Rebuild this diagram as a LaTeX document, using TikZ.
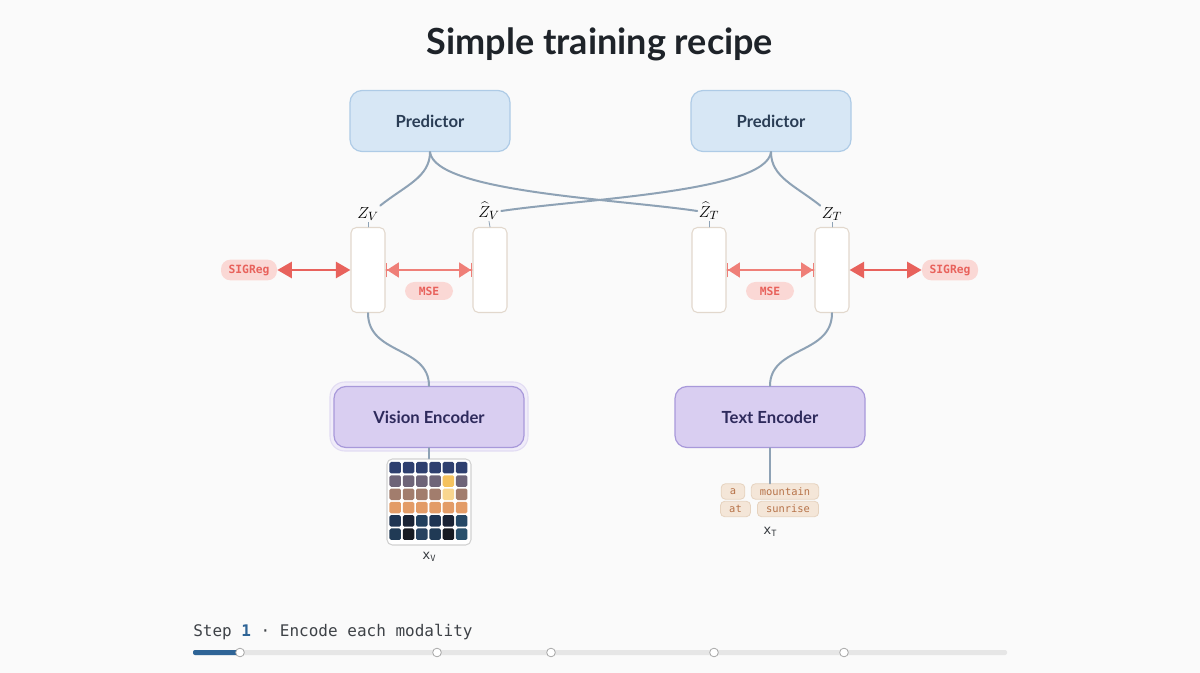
\documentclass[tikz,border=0pt]{standalone}
\usepackage{fontspec}
\setmainfont{Lato}
\setmonofont{DejaVu Sans Mono}
\usetikzlibrary{calc,arrows.meta}
\definecolor{bg}{HTML}{FAFAFA}
\definecolor{ink}{HTML}{1E2329}
\definecolor{predfill}{HTML}{D7E7F5}
\definecolor{predline}{HTML}{AECBE6}
\definecolor{predtext}{HTML}{2A3D55}
\definecolor{embline}{HTML}{E2D8CD}
\definecolor{wire}{HTML}{8EA2B5}
\definecolor{sigred}{HTML}{E8625C}
\definecolor{msered}{HTML}{EF7F78}
\definecolor{pillfill}{HTML}{FAD8D5}
\definecolor{encfill}{HTML}{D9CEF1}
\definecolor{encline}{HTML}{A899DA}
\definecolor{enctext}{HTML}{2E2A5C}
\definecolor{halofill}{HTML}{F0ECF9}
\definecolor{haloline}{HTML}{E2DCF3}
\definecolor{tokfill}{HTML}{F4E6D8}
\definecolor{tokline}{HTML}{E6D3BF}
\definecolor{toktext}{HTML}{B67248}
\definecolor{steptext}{HTML}{3E4247}
\definecolor{stepblue}{HTML}{2E6496}
\definecolor{track}{HTML}{E6E6E6}
% pixel colours
\definecolor{nv}{HTML}{2E3F6F}
\definecolor{gp}{HTML}{6E6478}
\definecolor{yl}{HTML}{F5C25E}
\definecolor{br}{HTML}{A27D6D}
\definecolor{ly}{HTML}{F9D68F}
\definecolor{og}{HTML}{E39C67}
\definecolor{da}{HTML}{1F3553}
\definecolor{db}{HTML}{1A2335}
\definecolor{dc}{HTML}{22405E}
\definecolor{dd}{HTML}{254866}
\definecolor{de}{HTML}{203A55}
\definecolor{df}{HTML}{161A22}
\definecolor{dg}{HTML}{274260}
\definecolor{dh}{HTML}{29506C}
\newcommand{\cell}{11.5}
\newcommand{\pitch}{13.3}
\tikzset{
  pred/.style={draw=predline, fill=predfill, line width=0.9pt, rounded corners=9pt,
    minimum width=120pt, minimum height=45.75pt, text=predtext, font=\fontsize{12.5}{14}\selectfont\bfseries},
  emb/.style={draw=embline, fill=white, line width=0.8pt, rounded corners=4pt,
    minimum width=25.5pt, minimum height=63.75pt, inner sep=0pt},
  zlab/.style={font=\fontsize{13}{15}\selectfont, inner sep=1pt},
  wireline/.style={draw=wire, line width=1.5pt},
  pill/.style={fill=pillfill, rounded corners=7pt, text=sigred, font=\fontsize{8.5}{9}\selectfont\ttfamily\bfseries,
    minimum height=15.5pt, minimum width=42pt, inner xsep=3pt, inner ysep=0pt},
  msepill/.style={pill, minimum width=36pt, minimum height=13.5pt},
  sigarrow/.style={draw=sigred, line width=2.2pt,
    {Triangle[length=11pt,width=12pt]}-{Triangle[length=11pt,width=12pt]}},
  msearrow/.style={draw=msered, line width=1.9pt,
    {Bar[width=11pt,line width=1pt,sep=0pt]Triangle[length=9pt,width=11pt]}-{Triangle[length=9pt,width=11pt]Bar[width=11pt,line width=1pt,sep=0pt]}},
  enc/.style={draw=encline, fill=encfill, line width=0.9pt, rounded corners=9pt,
    minimum width=142.5pt, minimum height=45.75pt, text=enctext, font=\fontsize{12.5}{14}\selectfont\bfseries},
  imgframe/.style={draw=black!18, fill=white, line width=0.8pt, rounded corners=4pt,
    minimum width=63pt, minimum height=64.5pt, inner sep=0pt},
  tok/.style={draw=tokline, fill=tokfill, line width=0.6pt, rounded corners=3pt, text=toktext,
    font=\fontsize{7.8}{8}\selectfont\ttfamily, minimum height=11.5pt, inner xsep=6.5pt, inner ysep=0pt},
  xlab/.style={font=\fontsize{10}{11}\selectfont\ttfamily, text=ink!90},
  dot/.style={circle, draw=black!35, fill=white, line width=0.6pt, minimum size=6.5pt, inner sep=0pt}
}

\begin{document}
\begin{tikzpicture}[x=0.75pt, y=-0.75pt, line cap=round, line join=round]

\fill[bg] (0,0) rectangle (1200,673);
\useasboundingbox (0,0) rectangle (1200,673);

% ---------------- title ----------------
\node[font=\fontsize{27}{32}\selectfont\bfseries, text=ink] (title) at (600,44) {Simple training recipe};

% ---------------- predictors ----------------
\node[pred] (predv) at (430,121) {Predictor};
\node[pred] (predt) at (771,121) {Predictor};

% ---------------- embeddings and their labels ----------------
\node[emb] (zv)  at (368,270) {};
\node[emb] (zvh) at (490,270) {};
\node[emb] (zth) at (709,270) {};
\node[emb] (zt)  at (832,270) {};
\node[zlab] (lzv)  at (368,214) {$Z_V$};
\node[zlab] (lzvh) at (489,211) {$\widehat{Z}_V$};
\node[zlab] (lzth) at (709,211) {$\widehat{Z}_T$};
\node[zlab] (lzt)  at (832,214) {$Z_T$};
\foreach \n in {zv,zvh,zth,zt}
  \draw[wire, line width=0.6pt] (l\n.south) -- (\n.north);

% ---------------- predictor wires (crossing) ----------------
\draw[wireline] (predv.south) .. controls +(0,25) and +(25,-20) .. (lzv.north east);
\draw[wireline] (predv.south) .. controls +(5,40) and +(-80,-12) .. (lzth.west);
\draw[wireline] (predt.south) .. controls +(-5,40) and +(80,-12) .. (lzvh.east);
\draw[wireline] (predt.south) .. controls +(0,25) and +(-25,-20) .. (lzt.north west);

% ---------------- losses ----------------
\node[pill] (sigv) at (249,270) {SIGReg};
\node[pill] (sigt) at (950,270) {SIGReg};
\node[msepill] (msev) at (429,291) {MSE};
\node[msepill] (mset) at (770,291) {MSE};
\draw[sigarrow] (sigv.east) -- (zv.west);
\draw[msearrow] (zv.east) -- (zvh.west);
\draw[msearrow] (zth.east) -- (zt.west);
\draw[sigarrow] (zt.east) -- (sigt.west);

% ---------------- encoders ----------------
\draw[draw=haloline, fill=halofill, line width=0.8pt, rounded corners=11pt] (330,382) rectangle (528,451);
\node[enc] (visenc) at (429,417) {Vision Encoder};
\node[enc] (txtenc) at (770,417) {Text Encoder};
\draw[wireline] (zv.south) .. controls +(0,42) and +(0,-40) .. (visenc.north);
\draw[wireline] (zt.south) .. controls +(0,42) and +(0,-40) .. (txtenc.north);

% ---------------- image input ----------------
\node[imgframe] (img) at (429,502) {};
\draw[wireline] (visenc.south) -- (img.north);
\foreach \r/\clist in {0/{nv,nv,nv,nv,nv,nv}, 1/{gp,gp,gp,gp,yl,gp}, 2/{br,br,br,br,ly,br},
                       3/{og,og,og,og,og,og}, 4/{da,db,dc,da,db,dd}, 5/{de,df,dg,de,df,dh}}{
  \foreach \c [count=\k from 0] in \clist
    \fill[\c, rounded corners=1.2pt] ($(img.north west)+(3,3.5+\r*\pitch)+(\k*\pitch,0)$) rectangle ++(\cell,\cell);
}
\node[xlab] (xv) at (429,557) {x\raisebox{-2pt}{\fontsize{6.5}{7}\selectfont V}};

% ---------------- text input ----------------
\node[tok] (ta)  at (733,491.5) {a};
\node[tok] (tm)  at (785,491.5) {mountain};
\node[tok] (tat) at (735.5,509) {at};
\node[tok] (ts)  at (788,509) {sunrise};
\draw[wireline] (txtenc.south) -- (txtenc.south |- tm.north);
\node[xlab] (xt) at (770,532) {x\raisebox{-2pt}{\fontsize{6.5}{7}\selectfont T}};

% ---------------- step caption and progress ----------------
\node[anchor=west, inner sep=0pt, font=\fontsize{12}{14}\selectfont\ttfamily, text=steptext] (step) at (193,632)
  {Step \textcolor{stepblue}{\bfseries 1} · Encode each modality};
\fill[track, rounded corners=1.5pt] (193,650) rectangle (1007,655);
\fill[stepblue, rounded corners=1.5pt] (193,650) rectangle (240,655);
\foreach \dx in {240,437,551,714,844}
  \node[dot] (d\dx) at (\dx,652.5) {};

\end{tikzpicture}
\end{document}
